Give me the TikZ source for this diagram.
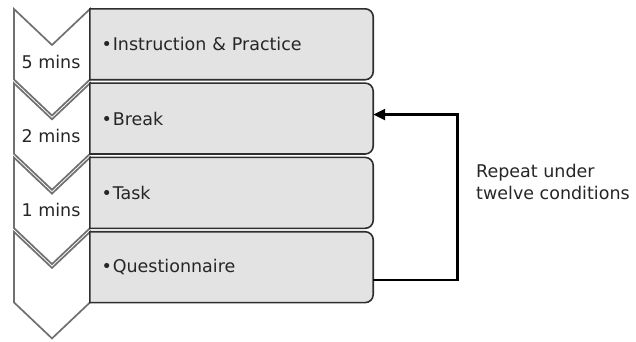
\documentclass[tikz,border=0pt]{standalone}
\usepackage{fontspec}
\setmainfont{DejaVu Sans}
\usetikzlibrary{arrows.meta,backgrounds}
\definecolor{boxfill}{HTML}{E3E3E3}
\definecolor{boxline}{HTML}{2E2E2E}
\definecolor{chevline}{HTML}{707070}
\definecolor{txt}{HTML}{262626}
\tikzset{
  stepbox/.style={rectangle, draw=none, minimum width=283pt, minimum height=70.5pt,
    text width=283pt-23pt, inner xsep=11.5pt, align=left, font=\fontsize{17.5}{21}\selectfont, text=txt},
  boxshape/.style={fill=boxfill, draw=boxline, line width=1.6pt},
  chevshape/.style={fill=white, draw=chevline, line width=1.7pt, line join=miter},
  minslabel/.style={font=\fontsize{17.5}{21}\selectfont, text=txt, inner sep=0pt},
  loopline/.style={line width=2.6pt, draw=black, line join=miter, -{Triangle[length=12pt,width=11pt]}},
}
\newcommand{\chevron}[1]{%
  \path[chevshape] (14,#1) -- (52,#1+36) -- (90,#1) -- (90,#1+70.5) -- (52,#1+106.5) -- (14,#1+70.5) -- cycle;}
\newcommand{\boxoutline}[1]{%
  \path[boxshape] (#1.north west) [rounded corners=8pt] -- (#1.north east) -- (#1.south east) [sharp corners] -- (#1.south west) -- cycle;}
\begin{document}
\begin{tikzpicture}[x=1pt,y=-1pt]
\useasboundingbox (0,0) rectangle (636,341);
% boxes (nodes)
\node[stepbox] (b1) at (231.5,44.25) {•\hspace{1pt}Instruction \& Practice};
\node[stepbox] (b2) at (231.5,118.55) {•\hspace{1pt}Break};
\node[stepbox] (b3) at (231.5,192.85) {•\hspace{1pt}Task};
\node[stepbox] (b4) at (231.5,267.15) {•\hspace{1pt}Questionnaire};
\begin{scope}[on background layer]
  \chevron{9}
  \chevron{83.3}
  \chevron{157.6}
  \chevron{231.9}
  \boxoutline{b1}
  \boxoutline{b2}
  \boxoutline{b3}
  \boxoutline{b4}
\end{scope}
% duration labels
\node[minslabel] (m1) at (51,62) {5 mins};
\node[minslabel] (m2) at (51,135.5) {2 mins};
\node[minslabel] (m3) at (51,210) {1 mins};
% loop
\coordinate (start) at ([yshift=-13pt]b4.east);
\coordinate (finish) at ([yshift=4pt]b2.east);
\coordinate (turn) at ([xshift=84pt]finish);
\draw[loopline] (start) -| (turn) -- (finish);
\node[anchor=west, align=left, inner sep=0pt, font=\fontsize{17.5}{22}\selectfont, text=txt] (lbl) at (476,181.5)
  {Repeat under\\twelve conditions};
\end{tikzpicture}
\end{document}
